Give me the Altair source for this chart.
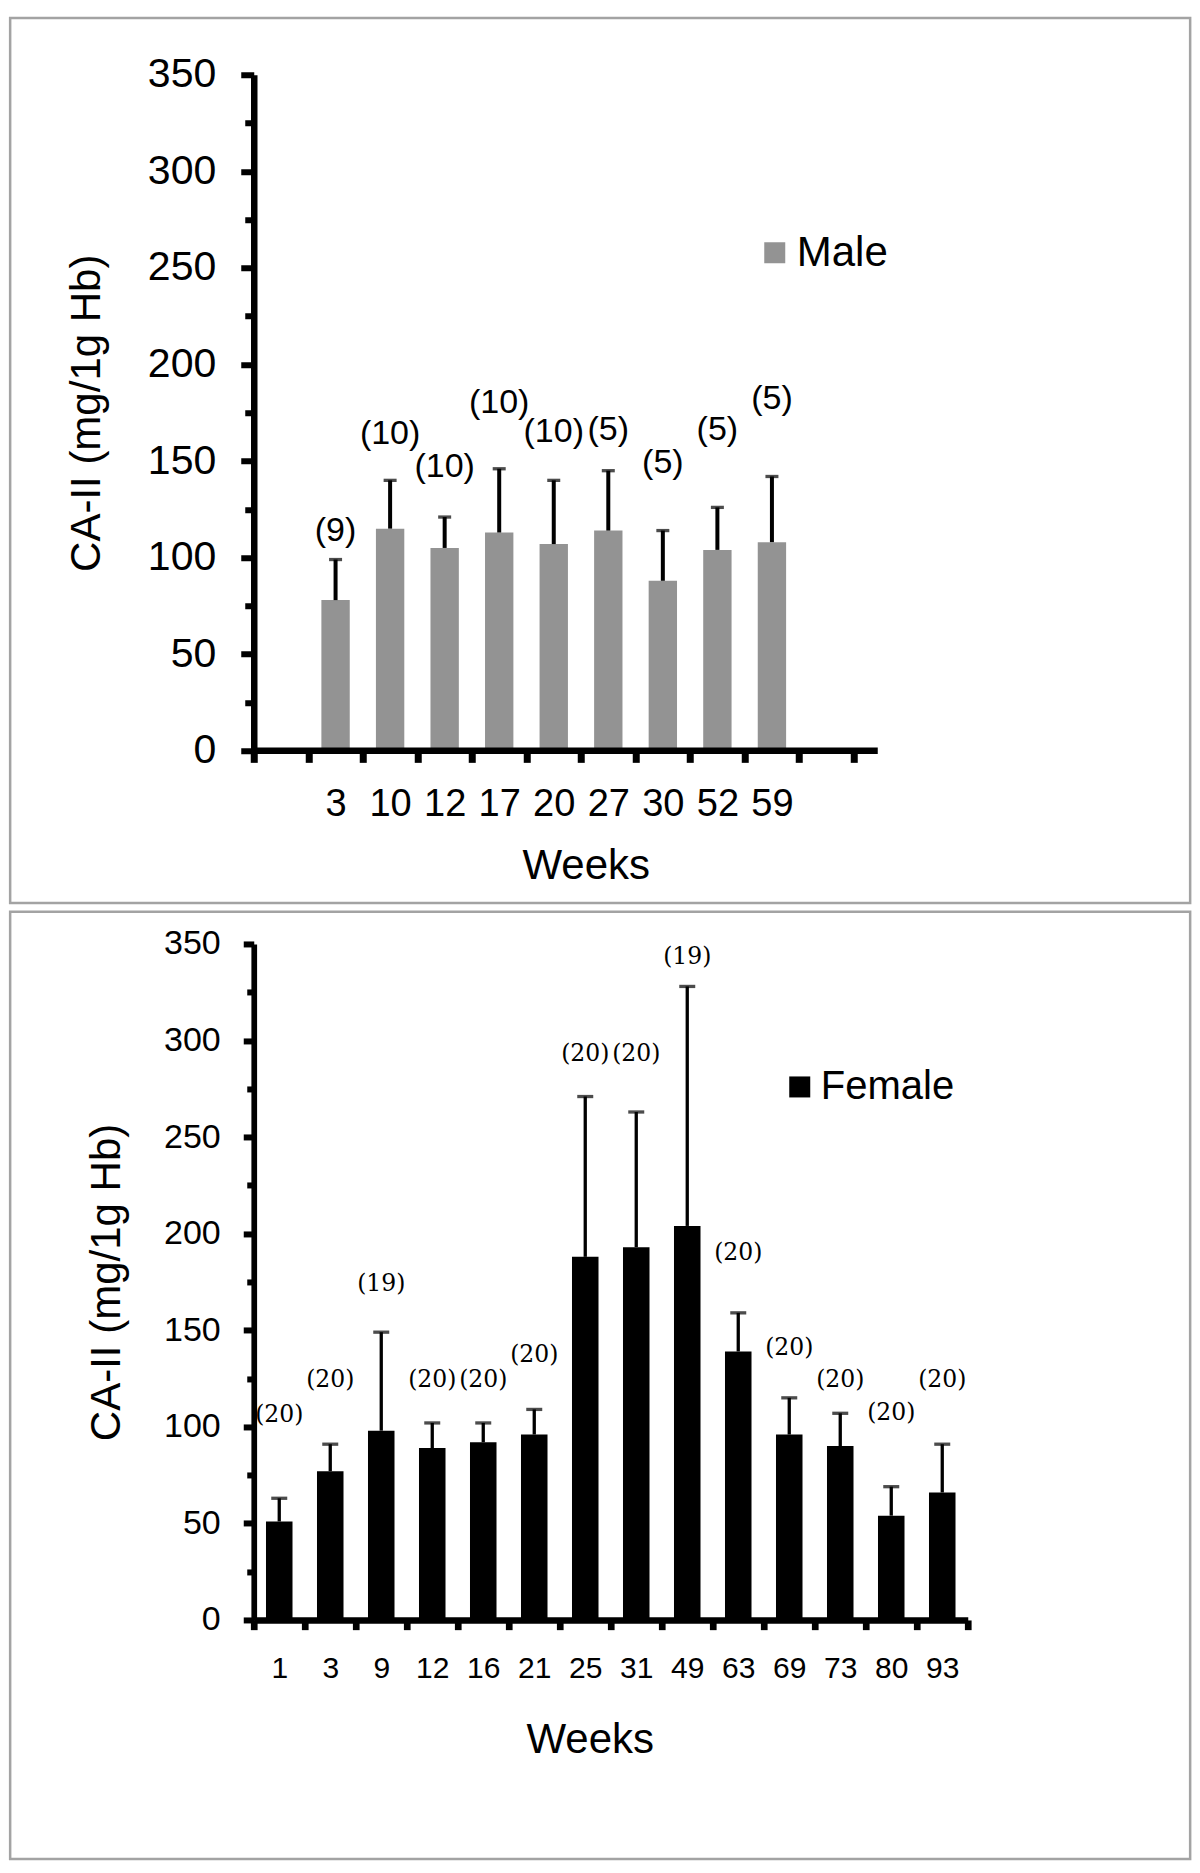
import altair as alt
import pandas as pd

FONT = "Liberation Sans"

# ---- Male panel data ----
male_weeks = ["3", "10", "12", "17", "20", "27", "30", "52", "59"]
male_mean = [78, 115, 105, 113, 107, 114, 88, 104, 108]
male_upper = [99, 140, 121, 146, 140, 145, 114, 126, 142]
male_n = [9, 10, 10, 10, 10, 5, 5, 5, 5]
male_label_y = [114, 164, 147, 180, 165, 166, 149, 166, 182]

# ---- Female panel data ----
female_weeks = ["1", "3", "9", "12", "16", "21", "25", "31", "49", "63", "69", "73", "80", "93"]
female_mean = [51, 77, 98, 89, 92, 96, 188, 193, 204, 139, 96, 90, 54, 66]
female_upper = [63, 91, 149, 102, 102, 109, 271, 263, 328, 159, 115, 107, 69, 91]
female_n = [20, 20, 19, 20, 20, 20, 20, 20, 19, 20, 20, 20, 20, 20]
female_label_y = [106, 124, 174, 124, 124, 137, 293, 293, 343, 190, 141, 124, 107, 124]

y_ticks = [0, 25, 50, 75, 100, 125, 150, 175, 200, 225, 250, 275, 300, 325, 350]
top_x_domain = ["pad_a"] + male_weeks + ["pad_b"]

male_df = pd.DataFrame({
    "week": male_weeks, "mean": male_mean, "upper": male_upper,
    "n": ["(%d)" % v for v in male_n], "label_y": male_label_y, "sex": "Male",
})
female_df = pd.DataFrame({
    "week": female_weeks, "mean": female_mean, "upper": female_upper,
    "n": ["(%d)" % v for v in female_n], "label_y": female_label_y, "sex": "Female",
})
one_df = pd.DataFrame({"k": [0]})

MAJOR = "datum.value % 50 === 0"


def y_axis(label_size, major, minor, tick_w, dom_w, pad, title_x):
    return alt.Axis(
        values=y_ticks,
        labelExpr=MAJOR + " ? datum.label : ''",
        tickSize={"condition": {"test": MAJOR, "value": major}, "value": minor},
        tickWidth=tick_w, tickColor="black",
        domainWidth=dom_w, domainColor="black",
        labelFont=FONT, labelFontSize=label_size, labelColor="black", labelPadding=pad,
        title="CA-II (mg/1g Hb)", titleFont=FONT, titleFontSize=42,
        titleFontWeight="normal", titleColor="black", titleX=title_x,
        grid=False,
    )


# ================= TOP (Male) =================
PW_T = 624
x_top = alt.X(
    "week:N",
    scale=alt.Scale(domain=top_x_domain, paddingInner=0, paddingOuter=0, rangeMax=600),
    axis=alt.Axis(
        labelExpr="indexof(datum.label, 'pad') === 0 ? '' : datum.label",
        labelAngle=0, labelFont=FONT, labelFontSize=38, labelColor="black", labelPadding=23,
        tickBand="extent", tickSize=11.6, tickWidth=7, tickColor="black", domain=False,
        title="Weeks", titleFont=FONT, titleFontSize=42, titleFontWeight="normal",
        titleColor="black", titleX=332, titleY=95,
    ),
)
y_top = alt.Y("mean:Q", scale=alt.Scale(domain=[0, 350], nice=False),
              axis=y_axis(41, 13, 9, 6, 6.5, 25, -145))

top_frame = alt.Chart(one_df).mark_rect(filled=False, stroke="#a3a3a3", strokeWidth=2.5).encode(
    x=alt.value(-243.6), x2=alt.value(936.4), y=alt.value(-56.8), y2=alt.value(828.2))
top_bars = alt.Chart(male_df).mark_bar(width=alt.RelativeBandSize(0.52)).encode(
    x=x_top, y=y_top,
    color=alt.Color("sex:N", scale=alt.Scale(domain=["Male"], range=["#939393"]),
                    legend=alt.Legend(orient="none", legendX=500, legendY=157, title=None,
                                      symbolType="square", symbolSize=441, symbolStrokeWidth=0,
                                      labelFont=FONT, labelFontSize=42, labelColor="black",
                                      labelOffset=1, padding=0)))
top_err = alt.Chart(male_df).mark_rule(color="black", strokeWidth=4).encode(
    x=x_top, y="mean:Q", y2="upper:Q")
top_cap = alt.Chart(male_df).mark_tick(color="black", thickness=3.3, size=13).encode(
    x=x_top, y="upper:Q")
top_lab = alt.Chart(male_df).mark_text(font=FONT, fontSize=34, color="black", baseline="middle").encode(
    x=x_top, y="label_y:Q", text="n:N")
top_xline = alt.Chart(one_df).mark_rule(color="black", strokeWidth=6.5).encode(
    x=alt.value(0), x2=alt.value(PW_T), y=alt.datum(0))

top = alt.layer(top_frame, top_bars, top_err, top_cap, top_lab, top_xline).properties(
    width=PW_T, height=676)

# ================= BOTTOM (Female) =================
PW_B = 714
x_bot = alt.X(
    "week:N",
    scale=alt.Scale(domain=female_weeks, paddingInner=0, paddingOuter=0),
    axis=alt.Axis(
        labelAngle=0, labelFont=FONT, labelFontSize=30, labelColor="black", labelPadding=24,
        tickBand="extent", tickSize=9.7, tickWidth=6.7, tickColor="black",
        domainWidth=6.6, domainColor="black",
        title="Weeks", titleFont=FONT, titleFontSize=42, titleFontWeight="normal",
        titleColor="black", titleX=336, titleY=100,
    ),
)
y_bot = alt.Y("mean:Q", scale=alt.Scale(domain=[0, 350], nice=False),
              axis=y_axis(34, 10.5, 7, 6, 5.7, 23, -125))

bot_frame = alt.Chart(one_df).mark_rect(filled=False, stroke="#a3a3a3", strokeWidth=2.5).encode(
    x=alt.value(-243.6), x2=alt.value(936.4), y=alt.value(-32.3), y2=alt.value(915))
bot_bars = alt.Chart(female_df).mark_bar(width=alt.RelativeBandSize(0.52)).encode(
    x=x_bot, y=y_bot,
    color=alt.Color("sex:N", scale=alt.Scale(domain=["Female"], range=["#000000"]),
                    legend=alt.Legend(orient="none", legendX=526, legendY=123, title=None,
                                      symbolType="square", symbolSize=441, symbolStrokeWidth=0,
                                      labelFont=FONT, labelFontSize=40, labelColor="black",
                                      labelOffset=1, padding=0)))
bot_err = alt.Chart(female_df).mark_rule(color="black", strokeWidth=3.3).encode(
    x=x_bot, y="mean:Q", y2="upper:Q")
bot_cap = alt.Chart(female_df).mark_tick(color="black", thickness=3.3, size=16).encode(
    x=x_bot, y="upper:Q")
bot_lab = alt.Chart(female_df).mark_text(font="DejaVu Serif", fontSize=23.5, color="black",
                                         baseline="middle").encode(
    x=x_bot, y="label_y:Q", text="n:N")

bottom = alt.layer(bot_frame, bot_bars, bot_err, bot_cap, bot_lab).properties(
    width=PW_B, height=676)

chart = alt.vconcat(top, bottom, spacing=5.2).resolve_scale(
    x="independent", y="independent", color="independent"
).properties(
    padding={"left": 0.75, "top": 7.75, "right": 0, "bottom": 0}
).configure_view(stroke=None)

chart.save("out.html", embed_options={"renderer": "svg", "actions": False})
